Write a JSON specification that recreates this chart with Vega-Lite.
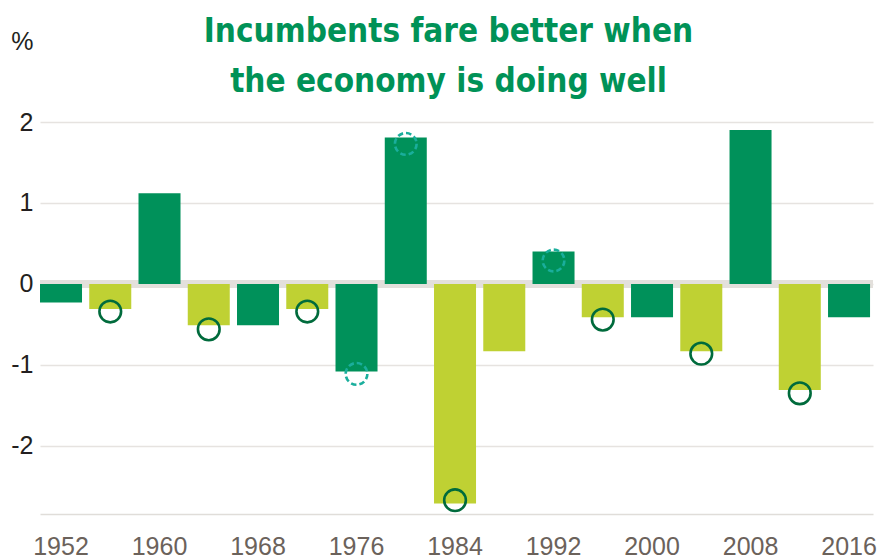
{
  "$schema": "https://vega.github.io/schema/vega-lite/v6.json",
  "width": 833,
  "height": 392,
  "autosize": {"type": "none"},
  "padding": {"left": 40, "top": 122, "right": 8, "bottom": 44},
  "background": "white",
  "title": {
    "text": ["Incumbents fare better when", "the economy is doing well"],
    "font": "Liberation Sans Narrow, DejaVu Sans Condensed, sans-serif",
    "fontSize": 33,
    "fontWeight": "bold",
    "color": "#009257",
    "anchor": "middle",
    "frame": "group",
    "lineHeight": 50,
    "dx": -8,
    "offset": -70
  },
  "data": {
    "values": [
      {"year": 1952, "value": -0.23, "group": "dark", "marker": null, "markerValue": null},
      {"year": 1956, "value": -0.31, "group": "light", "marker": "solid", "markerValue": -0.34},
      {"year": 1960, "value": 1.12, "group": "dark", "marker": null, "markerValue": null},
      {"year": 1964, "value": -0.51, "group": "light", "marker": "solid", "markerValue": -0.56},
      {"year": 1968, "value": -0.51, "group": "dark", "marker": null, "markerValue": null},
      {"year": 1972, "value": -0.31, "group": "light", "marker": "solid", "markerValue": -0.34},
      {"year": 1976, "value": -1.08, "group": "dark", "marker": "dashed", "markerValue": -1.11},
      {"year": 1980, "value": 1.81, "group": "dark", "marker": "dashed", "markerValue": 1.73},
      {"year": 1984, "value": -2.71, "group": "light", "marker": "solid", "markerValue": -2.67},
      {"year": 1988, "value": -0.83, "group": "light", "marker": null, "markerValue": null},
      {"year": 1992, "value": 0.40, "group": "dark", "marker": "dashed", "markerValue": 0.29},
      {"year": 1996, "value": -0.41, "group": "light", "marker": "solid", "markerValue": -0.44},
      {"year": 2000, "value": -0.41, "group": "dark", "marker": null, "markerValue": null},
      {"year": 2004, "value": -0.83, "group": "light", "marker": "solid", "markerValue": -0.86},
      {"year": 2008, "value": 1.90, "group": "dark", "marker": null, "markerValue": null},
      {"year": 2012, "value": -1.31, "group": "light", "marker": "solid", "markerValue": -1.35},
      {"year": 2016, "value": -0.41, "group": "dark", "marker": null, "markerValue": null}
    ]
  },
  "encoding": {
    "x": {
      "field": "year",
      "type": "ordinal",
      "scale": {"paddingInner": 0.147, "paddingOuter": 0.03, "align": 0},
      "axis": {
        "title": null,
        "values": [1952, 1960, 1968, 1976, 1984, 1992, 2000, 2008, 2016],
        "labelAngle": 0,
        "ticks": false,
        "domain": true,
        "domainColor": "#e0ddd9",
        "domainWidth": 1.5,
        "labelFont": "Liberation Sans, Arial, sans-serif",
        "labelFontSize": 25,
        "labelColor": "#6b625b",
        "labelPadding": 20,
        "grid": false
      }
    }
  },
  "layer": [
    {
      "mark": {"type": "rule", "color": "#e3e0dc", "strokeWidth": 8},
      "encoding": {"y": {"datum": 0, "type": "quantitative", "scale": {"domain": [-2.84, 2], "nice": false, "zero": false}}, "x": null}
    },
    {
      "mark": {"type": "bar"},
      "encoding": {
        "y": {
          "field": "value",
          "type": "quantitative",
          "scale": {"domain": [-2.84, 2], "nice": false, "zero": false},
          "axis": {
            "title": "%",
            "titleAngle": 0,
            "titleX": -7,
            "titleY": -73,
            "titleAlign": "right",
            "titleBaseline": "alphabetic",
            "titleFont": "Liberation Sans, Arial, sans-serif",
            "titleFontSize": 25,
            "titleFontWeight": "normal",
            "titleColor": "#231f20",
            "values": [-2, -1, 0, 1, 2],
            "labelExpr": "'' + datum.value",
            "domain": false,
            "ticks": false,
            "grid": true,
            "gridColor": "#e6e3e0",
            "gridWidth": 1.5,
            "labelFont": "Liberation Sans, Arial, sans-serif",
            "labelFontSize": 25,
            "labelColor": "#231f20",
            "labelPadding": 7
          }
        },
        "y2": {"datum": 0},
        "color": {
          "field": "group",
          "type": "nominal",
          "scale": {"domain": ["dark", "light"], "range": ["#00915a", "#bfd133"]},
          "legend": null
        }
      }
    },
    {
      "transform": [{"filter": "datum.marker === 'solid'"}],
      "mark": {"type": "point", "shape": "circle", "filled": false, "size": 470, "stroke": "#006b3c", "strokeWidth": 2.6, "opacity": 1},
      "encoding": {
        "y": {"field": "markerValue", "type": "quantitative"}
      }
    },
    {
      "transform": [{"filter": "datum.marker === 'dashed'"}],
      "mark": {"type": "point", "shape": "circle", "filled": false, "size": 470, "stroke": "#1aae9c", "strokeWidth": 2.6, "strokeDash": [5.5, 3], "opacity": 1},
      "encoding": {
        "y": {"field": "markerValue", "type": "quantitative"}
      }
    }
  ],
  "config": {
    "view": {"stroke": null},
    "axis": {"labelFontWeight": "normal"}
  }
}
